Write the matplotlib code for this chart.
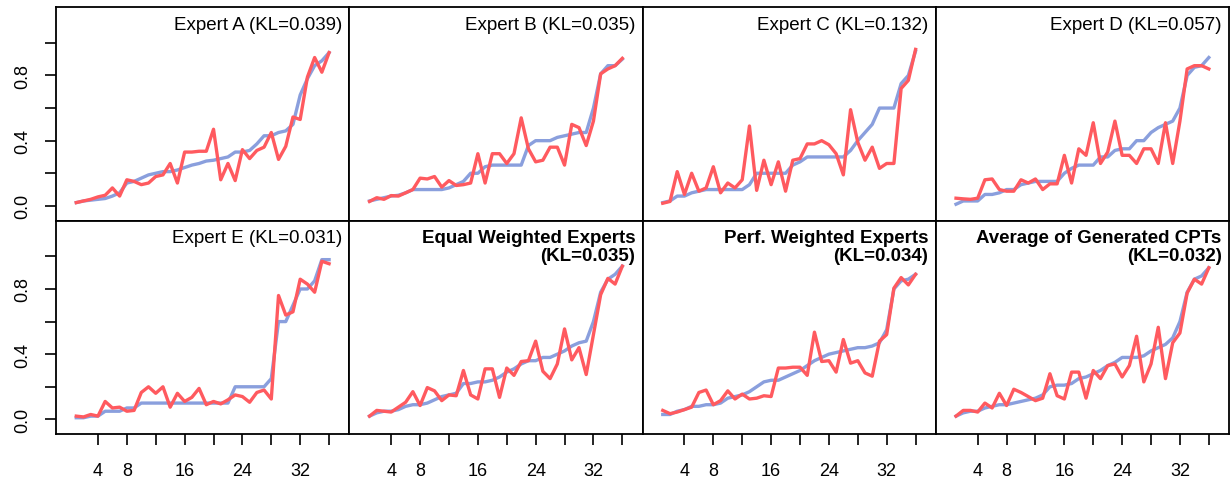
import matplotlib
matplotlib.use("Agg")
import matplotlib.pyplot as plt
import numpy as np

plt.rcParams['font.family'] = ['Liberation Sans', 'DejaVu Sans']

x = np.arange(1, 37)

titles = ["Expert A (KL=0.039)", "Expert B (KL=0.035)", "Expert C (KL=0.132)", "Expert D (KL=0.057)",
          "Expert E (KL=0.031)", "Equal Weighted Experts\n(KL=0.035)",
          "Perf. Weighted Experts\n(KL=0.034)", "Average of Generated CPTs\n(KL=0.032)"]
bold = [False, False, False, False, False, True, True, True]

red_a = [0.02, 0.03, 0.04, 0.055, 0.065, 0.11, 0.06, 0.16, 0.15, 0.13, 0.14, 0.18, 0.19, 0.26, 0.14, 0.33, 0.33, 0.335,
         0.335, 0.47, 0.16, 0.26, 0.155, 0.345, 0.29, 0.34, 0.36, 0.45, 0.285, 0.365, 0.545, 0.53, 0.79, 0.91, 0.82, 0.94]
blue_a = [0.02, 0.03, 0.035, 0.04, 0.045, 0.06, 0.08, 0.14, 0.15, 0.17, 0.19, 0.2, 0.21, 0.21, 0.22, 0.235, 0.25, 0.26,
          0.275, 0.28, 0.29, 0.3, 0.33, 0.33, 0.34, 0.38, 0.43, 0.43, 0.45, 0.46, 0.5, 0.68, 0.78, 0.86, 0.89, 0.94]
red_b = [0.027, 0.05, 0.04, 0.063, 0.06, 0.08, 0.1, 0.17, 0.165, 0.18, 0.115, 0.155, 0.125, 0.13, 0.14, 0.32, 0.14, 0.32,
         0.32, 0.26, 0.32, 0.54, 0.35, 0.27, 0.28, 0.36, 0.36, 0.25, 0.5, 0.48, 0.37, 0.52, 0.81, 0.84, 0.86, 0.905]
blue_b = [0.03, 0.04, 0.05, 0.06, 0.065, 0.08, 0.1, 0.1, 0.1, 0.1, 0.1, 0.11, 0.13, 0.15, 0.2, 0.2, 0.24, 0.25,
          0.25, 0.25, 0.25, 0.25, 0.37, 0.4, 0.4, 0.4, 0.42, 0.43, 0.44, 0.45, 0.45, 0.6, 0.81, 0.86, 0.86, 0.9]
red_c = [0.016, 0.027, 0.21, 0.07, 0.2, 0.09, 0.11, 0.24, 0.08, 0.14, 0.11, 0.16, 0.49, 0.095, 0.28, 0.13, 0.27, 0.09,
         0.28, 0.29, 0.38, 0.38, 0.4, 0.375, 0.32, 0.19, 0.59, 0.39, 0.28, 0.36, 0.23, 0.26, 0.26, 0.72, 0.77, 0.96]
blue_c = [0.02, 0.03, 0.06, 0.06, 0.08, 0.09, 0.1, 0.1, 0.1, 0.1, 0.1, 0.1, 0.13, 0.2, 0.2, 0.2, 0.2, 0.2,
          0.25, 0.27, 0.3, 0.3, 0.3, 0.3, 0.3, 0.3, 0.34, 0.4, 0.45, 0.5, 0.6, 0.6, 0.6, 0.75, 0.8, 0.95]
red_d = [0.047, 0.043, 0.04, 0.047, 0.16, 0.165, 0.1, 0.09, 0.09, 0.16, 0.14, 0.165, 0.1, 0.135, 0.135, 0.31, 0.14, 0.35,
         0.31, 0.51, 0.26, 0.33, 0.52, 0.31, 0.31, 0.26, 0.35, 0.35, 0.26, 0.51, 0.26, 0.52, 0.84, 0.86, 0.86, 0.84]
blue_d = [0.01, 0.03, 0.03, 0.03, 0.07, 0.07, 0.08, 0.1, 0.1, 0.13, 0.14, 0.15, 0.15, 0.15, 0.15, 0.2, 0.23, 0.25,
          0.25, 0.25, 0.3, 0.3, 0.34, 0.35, 0.35, 0.4, 0.4, 0.45, 0.48, 0.5, 0.52, 0.6, 0.8, 0.85, 0.86, 0.91]
red_e = [0.02, 0.015, 0.03, 0.02, 0.11, 0.07, 0.075, 0.05, 0.055, 0.165, 0.2, 0.16, 0.2, 0.075, 0.16, 0.11, 0.135, 0.19,
         0.09, 0.11, 0.095, 0.12, 0.15, 0.14, 0.105, 0.165, 0.18, 0.125, 0.76, 0.64, 0.66, 0.86, 0.83, 0.78, 0.97, 0.955]
blue_e = [0.01, 0.01, 0.02, 0.02, 0.05, 0.05, 0.05, 0.07, 0.07, 0.1, 0.1, 0.1, 0.1, 0.1, 0.1, 0.1, 0.1, 0.1,
          0.1, 0.1, 0.1, 0.1, 0.2, 0.2, 0.2, 0.2, 0.2, 0.25, 0.6, 0.6, 0.7, 0.8, 0.8, 0.85, 0.98, 0.98]
red_eq = [0.02, 0.055, 0.05, 0.045, 0.075, 0.105, 0.17, 0.085, 0.195, 0.175, 0.115, 0.15, 0.145, 0.3, 0.15, 0.125, 0.31, 0.31,
          0.135, 0.315, 0.27, 0.355, 0.36, 0.48, 0.295, 0.25, 0.34, 0.555, 0.365, 0.44, 0.275, 0.52, 0.765, 0.865, 0.83, 0.94]
blue_eq = [0.02, 0.04, 0.05, 0.05, 0.06, 0.08, 0.09, 0.09, 0.1, 0.12, 0.14, 0.15, 0.16, 0.22, 0.22, 0.23, 0.23, 0.24,
           0.26, 0.29, 0.31, 0.34, 0.36, 0.36, 0.38, 0.38, 0.4, 0.42, 0.45, 0.47, 0.48, 0.6, 0.78, 0.86, 0.89, 0.94]
red_pw = [0.055, 0.035, 0.045, 0.06, 0.075, 0.165, 0.18, 0.09, 0.115, 0.175, 0.125, 0.155, 0.125, 0.13, 0.145, 0.14, 0.315, 0.315,
          0.32, 0.32, 0.27, 0.535, 0.355, 0.36, 0.29, 0.49, 0.345, 0.36, 0.285, 0.265, 0.48, 0.52, 0.805, 0.87, 0.825, 0.89]
blue_pw = [0.03, 0.03, 0.05, 0.06, 0.08, 0.08, 0.09, 0.09, 0.1, 0.13, 0.14, 0.15, 0.17, 0.2, 0.23, 0.24, 0.24, 0.26,
           0.28, 0.3, 0.33, 0.36, 0.38, 0.4, 0.41, 0.42, 0.43, 0.44, 0.44, 0.45, 0.47, 0.55, 0.8, 0.85, 0.86, 0.89]
red_avg = [0.02, 0.055, 0.055, 0.045, 0.1, 0.07, 0.16, 0.085, 0.185, 0.165, 0.14, 0.115, 0.13, 0.28, 0.145, 0.125, 0.29, 0.29,
           0.13, 0.3, 0.25, 0.33, 0.34, 0.26, 0.33, 0.51, 0.23, 0.34, 0.565, 0.25, 0.47, 0.53, 0.775, 0.86, 0.83, 0.93]
blue_avg = [0.02, 0.04, 0.05, 0.05, 0.07, 0.08, 0.09, 0.09, 0.1, 0.11, 0.12, 0.13, 0.15, 0.2, 0.21, 0.21, 0.22, 0.25,
            0.26, 0.28, 0.3, 0.33, 0.35, 0.38, 0.38, 0.38, 0.39, 0.42, 0.44, 0.46, 0.5, 0.6, 0.78, 0.86, 0.88, 0.93]

reds = [red_a, red_b, red_c, red_d, red_e, red_eq, red_pw, red_avg]
blues = [blue_a, blue_b, blue_c, blue_d, blue_e, blue_eq, blue_pw, blue_avg]

fig, axes = plt.subplots(2, 4, figsize=(12.32, 4.85), dpi=100, sharex=True, sharey=True)
fig.subplots_adjust(left=0.0455, right=0.9976, top=0.9835, bottom=0.103, wspace=0, hspace=0)

for i, ax in enumerate(axes.flat):
    ax.plot(x, blues[i], color="#8a9fdd", lw=2.4)
    ax.plot(x, reds[i], color="#ff5a5f", lw=2.4)
    ax.text(0.975, 0.96, titles[i], transform=ax.transAxes, ha="right", va="top",
            fontsize=13.5, fontweight="bold" if bold[i] else "normal", linespacing=1.05)
    for s in ax.spines.values():
        s.set_linewidth(1.3)
    ax.set_xlim(-1.8, 38.8)
    ax.set_ylim(-0.09, 1.22)
    ax.set_xticks(np.arange(4, 37, 4))
    ax.set_xticklabels(["4", "8", "", "16", "", "24", "", "32", ""])
    ax.set_yticks([0, 0.2, 0.4, 0.6, 0.8, 1.0])
    ax.set_yticklabels(["0.0", "", "0.4", "", "0.8", ""], rotation=90, va="center")
    ax.tick_params(direction="out", length=8, width=1.2, labelsize=13, pad=10)
    ax.tick_params(axis="x", pad=12)
    if i % 4 != 0:
        ax.tick_params(axis="y", left=False)
    if i < 4:
        ax.tick_params(axis="x", bottom=False)

fig.savefig("out.png")
